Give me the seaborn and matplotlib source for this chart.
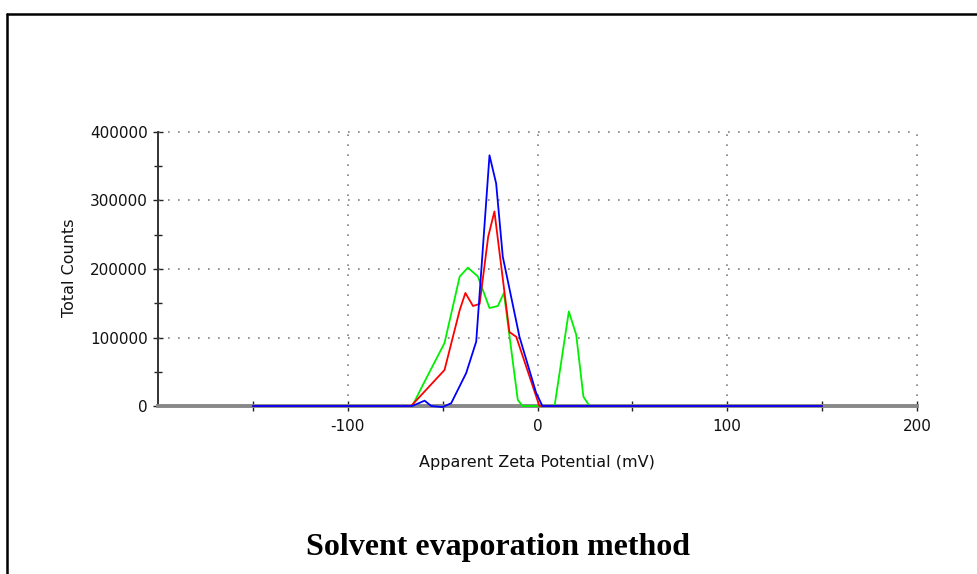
import numpy as np
import pandas as pd
import seaborn as sns
import matplotlib
matplotlib.use("Agg")
import matplotlib.pyplot as plt
from matplotlib.lines import Line2D
from matplotlib.ticker import FixedLocator, MultipleLocator

# Zeta potential distributions (mV vs. total counts), three runs
zeta_green = [-150, -66, -60, -49, -41, -36.7, -31.4, -25.3, -20.9, -17.7, -10.4, -7.9, 9, 16.5, 20.4, 24.2, 27.4, 150]
counts_green = [0, 0, 33000, 92000, 189000, 202000, 189000, 143000, 146000, 165000, 9000, 0, 0, 138000, 104000, 13600, 0, 0]

zeta_red = [-150, -66.6, -49, -41, -38, -34, -30.5, -26, -22.7, -14.8, -11.2, 1, 150]
counts_red = [0, 0, 52600, 140000, 165000, 146000, 149000, 247000, 284000, 108000, 101000, 0, 0]

zeta_blue = [-150, -66, -59.5, -56, -50, -45.5, -37.6, -32.3, -25.3, -21.8, -18.3, -9.5, -0.7, 2.6, 150]
counts_blue = [0, 0, 7800, 0, -1500, 4000, 48000, 94000, 366000, 325000, 218000, 101000, 19000, 0, 0]

x_ticks = [-100, 0, 100, 200]
x_tick_labels = ["-100", "0", "100", "200"]
y_ticks = [0, 100000, 200000, 300000, 400000]
y_tick_labels = ["0", "100000", "200000", "300000", "400000"]

runs = [
    ("green", zeta_green, counts_green, "#00f000"),
    ("red", zeta_red, counts_red, "#ff0000"),
    ("blue", zeta_blue, counts_blue, "#0000ff"),
]

sns.set_style("white")
plt.rcParams["font.family"] = ["DejaVu Sans"]

fig = plt.figure(figsize=(9.77, 5.74), dpi=100)
ax = fig.add_axes([158 / 977, 1 - 406 / 574, 759 / 977, 274 / 574])

for name, xs, ys, color in runs:
    df = pd.DataFrame({"zeta": xs, "counts": ys})
    sns.lineplot(data=df, x="zeta", y="counts", ax=ax, color=color,
                 linewidth=1.3, sort=False, estimator=None, zorder=5)
for line in ax.lines:
    line.set_clip_on(False)

ax.set_xlim(-200, 200)
ax.set_ylim(0, 400000)

# dotted grid at major positions
grid_kw = dict(color="#808080", linestyle=(0, (1, 5)), linewidth=1.2, zorder=1)
for yv in y_ticks[1:]:
    ax.axhline(yv, clip_on=False, **grid_kw)
for xv in x_ticks:
    ax.axvline(xv, clip_on=False, **grid_kw)

for side in ("top", "right"):
    ax.spines[side].set_visible(False)
ax.spines["bottom"].set_color("#888888")
ax.spines["bottom"].set_linewidth(2.8)
ax.spines["bottom"].set_zorder(3)
ax.spines["left"].set_color("#333333")
ax.spines["left"].set_linewidth(1.4)

ax.xaxis.set_major_locator(FixedLocator(x_ticks))
ax.set_xticklabels(x_tick_labels)
ax.xaxis.set_minor_locator(FixedLocator([-150, -50, 50, 150]))
ax.yaxis.set_major_locator(FixedLocator(y_ticks))
ax.set_yticklabels(y_tick_labels)
ax.yaxis.set_minor_locator(MultipleLocator(50000))

ax.tick_params(axis="both", which="both", direction="inout", color="#222222",
               width=1.0, labelsize=11, labelcolor="#111111",
               bottom=True, left=True)
ax.tick_params(axis="x", which="both", length=7, pad=6)
ax.tick_params(axis="y", which="major", length=7, pad=4)
ax.tick_params(axis="y", which="minor", length=6)
for t in ax.xaxis.get_ticklines(minor=True) + ax.yaxis.get_ticklines(minor=True):
    t.set_zorder(6)

ax.set_xlabel("Apparent Zeta Potential (mV)", fontsize=11.5, color="#111111")
ax.set_ylabel("Total Counts", fontsize=11.5, color="#111111")
ax.xaxis.set_label_coords((537 - 158) / 759, (406 - 463) / 274)
ax.xaxis.label.set_va("center")
ax.yaxis.set_label_coords((70 - 158) / 759, (406 - 268) / 274)
ax.yaxis.label.set_va("center")

fig.text(498 / 977, 1 - 547 / 574, "Solvent evaporation method",
         fontsize=23, fontweight="bold", family=["Liberation Serif", "DejaVu Serif"],
         ha="center", va="center", color="black")

# outer frame (top and left edges)
fig.add_artist(Line2D([7 / 977, 1.0], [1 - 14 / 574, 1 - 14 / 574],
                      transform=fig.transFigure, color="black", linewidth=1.8))
fig.add_artist(Line2D([7 / 977, 7 / 977], [0.0, 1 - 14 / 574],
                      transform=fig.transFigure, color="black", linewidth=1.8))

fig.savefig("out.png", dpi=100)
